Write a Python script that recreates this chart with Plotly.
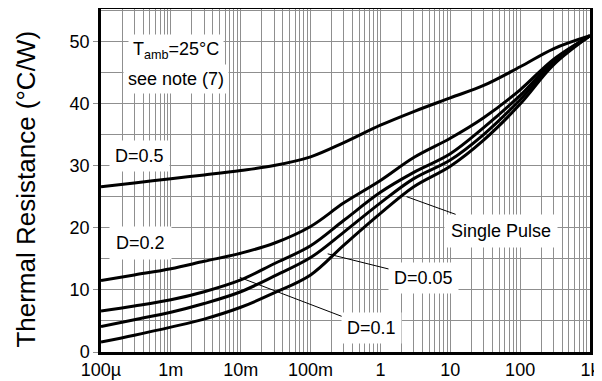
import plotly.graph_objects as go
import numpy as np

# ---- data ----
time_s = [1e-4, 3e-4, 1e-3, 3e-3, 1e-2, 3e-2, 0.1, 0.3, 1, 3, 10, 30, 100, 300, 1000]
d_050 = [26.6, 27.2, 27.9, 28.5, 29.2, 30.0, 31.4, 33.7, 36.5, 38.7, 40.9, 42.9, 45.9, 48.8, 50.9]
d_020 = [11.5, 12.4, 13.4, 14.6, 15.9, 17.5, 20.2, 24.0, 27.6, 31.3, 34.4, 37.7, 42.2, 47.1, 50.9]
d_010 = [6.6, 7.4, 8.4, 9.7, 11.6, 14.2, 17.1, 21.2, 25.7, 28.9, 31.9, 36.1, 41.3, 46.8, 50.9]
d_005 = [4.1, 5.2, 6.4, 7.8, 9.7, 12.2, 15.2, 19.3, 24.0, 27.9, 30.9, 35.0, 40.6, 46.5, 50.9]
single = [1.6, 2.7, 4.0, 5.3, 7.2, 9.5, 12.4, 17.2, 22.3, 26.6, 29.9, 34.1, 39.9, 46.2, 50.9]

x_tick_vals = [1e-4, 1e-3, 1e-2, 1e-1, 1, 10, 100, 1000]
x_tick_text = ["100µ", "1m", "10m", "100m", "1", "10", "100", "1k"]
y_tick_vals = [0, 10, 20, 30, 40, 50]

FONT = "Liberation Sans, Arial, sans-serif"
GRID = "#8f8f8f"

fig = go.Figure()
for ys in [d_050, d_020, d_010, d_005, single]:
    fig.add_trace(go.Scatter(
        x=time_s, y=ys, mode="lines",
        line=dict(color="black", width=3, shape="spline", smoothing=1.0),
        showlegend=False, hoverinfo="skip"))

minor_x = [m * 10.0 ** e for e in range(-4, 3) for m in range(2, 10)]

fig.update_xaxes(
    type="log", range=[-4, 3], automargin=False,
    tickmode="array", tickvals=x_tick_vals, ticktext=x_tick_text,
    showgrid=True, gridcolor=GRID, gridwidth=1,
    minor=dict(tickmode="array", tickvals=minor_x, showgrid=True,
               gridcolor=GRID, gridwidth=1),
    showline=True, linecolor="black", linewidth=2.5, mirror=True,
    ticks="", tickfont=dict(family=FONT, size=18, color="black"),
    zeroline=False,
)
fig.update_yaxes(
    range=[0, 55.2], automargin=False,
    tickmode="array", tickvals=y_tick_vals,
    showgrid=True, gridcolor=GRID, gridwidth=1,
    minor=dict(dtick=5, tick0=0, showgrid=True, gridcolor=GRID, gridwidth=1),
    showline=True, linecolor="black", linewidth=2.5, mirror=True,
    ticks="outside", ticklen=5, tickcolor=GRID, tickwidth=1,
    tickfont=dict(family=FONT, size=18, color="black"),
    zeroline=False,
)

lab = dict(font=dict(family=FONT, size=18, color="black"), bgcolor="white",
           showarrow=False, xref="x", yref="y")

ann = []
ann.append(dict(text="D=0.5", x=-3.45, y=31.5, borderpad=5, **lab))
ann.append(dict(text="D=0.2", x=-3.44, y=17.6, borderpad=6, **lab))
ann.append(dict(text="T<sub>amb</sub>=25°C", x=-2.93, y=48.5, borderpad=4, **lab))
ann.append(dict(text="see note (7)", x=-2.93, y=44.0, borderpad=4, **lab))

arr = dict(font=dict(family=FONT, size=18, color="black"), bgcolor="white",
           showarrow=True, arrowhead=0, arrowwidth=1, arrowcolor="black",
           xref="x", yref="y", axref="x", ayref="y", standoff=0)
ann.append(dict(text="D=0.05", x=-0.755, y=15.8, ax=0.617, ay=11.96, borderpad=5, **arr))
ann.append(dict(text="D=0.1", x=-2.013, y=12.0, ax=-0.126, ay=3.9, borderpad=5, **arr))
ann.append(dict(text="Single Pulse", x=0.374, y=25.0, ax=1.732, ay=19.5, borderpad=6, **arr))

ann.append(dict(text="Thermal Resistance (°C/W)", textangle=-90,
                xref="paper", yref="paper", x=-0.153, y=0.474,
                xanchor="center", yanchor="middle", showarrow=False,
                font=dict(family=FONT, size=26, color="black")))

# The page body adds an 8px offset; size the figure so the plot area lands
# where the reference has it.
fig.update_layout(
    width=594, height=373,
    margin=dict(l=93, r=12, t=1, b=29),
    plot_bgcolor="white", paper_bgcolor="white",
    annotations=ann,
)

fig.write_html("out.html")
